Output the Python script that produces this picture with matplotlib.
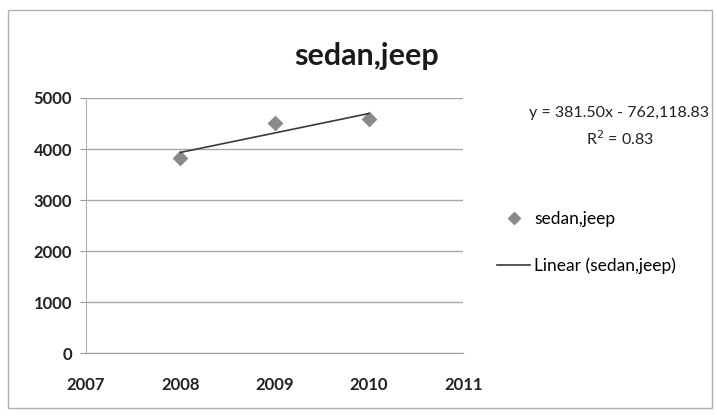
import numpy as np
import matplotlib.pyplot as plt
from matplotlib.patches import Rectangle
from matplotlib.lines import Line2D

years = [2008, 2009, 2010]
sales = [3833, 4515, 4596]
series_name = "sedan,jeep"
x_ticks = [2007, 2008, 2009, 2010, 2011]
y_ticks = [0, 1000, 2000, 3000, 4000, 5000]

plt.rcParams["font.family"] = ["Lato", "DejaVu Sans"]

fig = plt.figure(figsize=(7.17, 4.17), dpi=100)
fig.patch.set_facecolor("white")
fig.add_artist(Rectangle((0.011, 0.022), 0.982, 0.955, transform=fig.transFigure,
                         fill=False, edgecolor="#b0b0b0", linewidth=1.0))

ax = fig.add_axes([0.12, 0.153, 0.526, 0.612])

# linear trend over the data range
xs = np.array(years, dtype=float)
ys = np.array(sales, dtype=float)
m, b = np.polyfit(xs, ys, 1)
r2 = 1 - np.sum((ys - (m * xs + b)) ** 2) / np.sum((ys - ys.mean()) ** 2)

ax.scatter(years, sales, marker="D", s=50, color="#8a8a8a", zorder=3)
tx = np.array([years[0], years[-1]])
ax.plot(tx, m * tx + b, color="#3a3a3a", linewidth=1.2, zorder=4)

ax.set_xlim(2007, 2011)
ax.set_ylim(0, 5000)
ax.set_xticks(x_ticks)
ax.set_yticks(y_ticks)
ax.set_xticklabels([str(t) for t in x_ticks], fontsize=12, fontweight="bold", color="#222222")
ax.set_yticklabels([str(t) for t in y_ticks], fontsize=12, fontweight="bold", color="#222222")
ax.tick_params(axis="x", length=0, pad=17)
ax.tick_params(axis="y", length=4, color="#999999", pad=6)
ax.grid(axis="y", color="#a8a8a8", linewidth=1.0)
ax.set_axisbelow(True)
for s in ["top", "right"]:
    ax.spines[s].set_visible(False)
ax.spines["left"].set_color("#b0b0b0")
ax.spines["bottom"].set_color("#a0a0a0")

fig.text(0.511, 0.866, series_name, ha="center", va="center", fontsize=22, fontweight="bold", color="#1a1a1a")

# trendline equation
fig.text(0.864, 0.73, f"y = {m:.2f}x - {abs(b):,.2f}",
         ha="center", va="center", fontsize=11.5, color="#222222")
fig.text(0.864, 0.668, f"R$^2$ = {r2:.2f}", ha="center", va="center", fontsize=11.5, color="#222222")

handles = [
    Line2D([], [], marker="D", linestyle="none", color="#8a8a8a", markersize=6.5),
    Line2D([], [], color="#3a3a3a", linewidth=1.2),
]
fig.legend(handles, [series_name, "Linear (sedan,jeep)"], loc="center left",
           bbox_to_anchor=(0.672, 0.418), frameon=False, fontsize=12.5,
           handlelength=1.9, labelspacing=1.75, handletextpad=0.2)

fig.savefig("out.png", dpi=100)
